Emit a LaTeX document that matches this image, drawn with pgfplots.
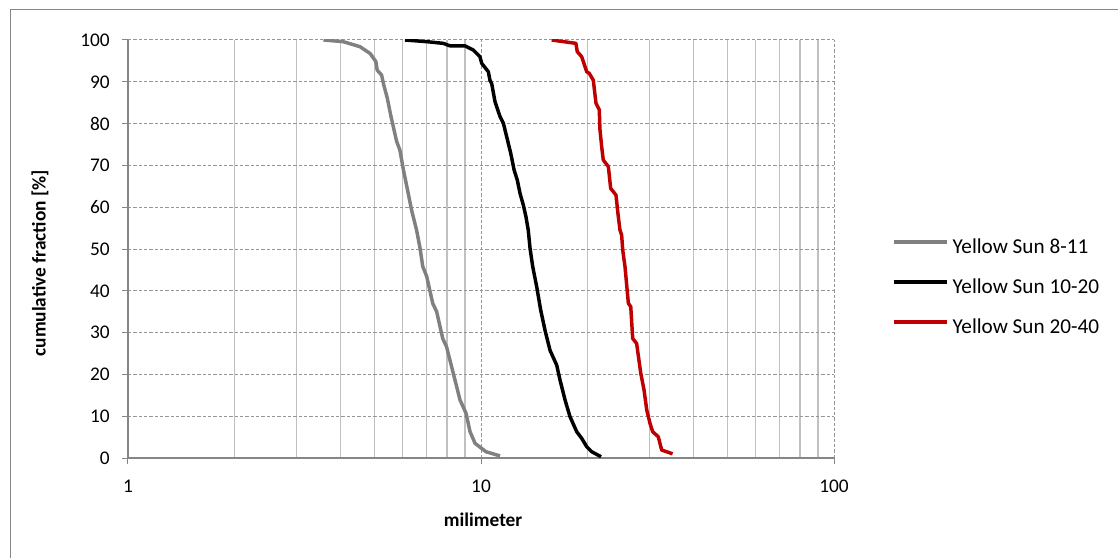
\documentclass[border=0pt]{standalone}
\usepackage{fontspec}
\setmainfont{Carlito}
\usepackage{pgfplots}
\pgfplotsset{compat=1.18}
\usepackage{pgfplotstable}
\definecolor{sgray}{RGB}{128,128,128}
\definecolor{sred}{RGB}{192,0,0}
\definecolor{axgray}{RGB}{134,134,134}
\definecolor{gridgray}{RGB}{150,150,150}
\definecolor{mingray}{RGB}{192,192,192}
\pgfplotstableread{
x y
3.58 100
4.07 99.6
4.54 98.4
4.85 96.8
5.04 94.8
5.08 92.8
5.23 91.6
5.29 89.6
5.43 86.0
5.55 82.0
5.67 78.5
5.77 75.7
5.89 73.7
6.03 68.9
6.18 64.5
6.36 59.3
6.57 54.5
6.72 50.2
6.84 45.8
7.02 43.4
7.30 37.0
7.49 35.0
7.79 28.6
7.99 26.6
8.39 19.5
8.72 13.9
9.07 10.7
9.31 6.3
9.62 3.5
10.33 1.5
11.32 0.5
}\tabA
\pgfplotstableread{
x y
6.09 100
7.02 99.6
7.82 99.2
8.17 98.6
9.01 98.6
9.51 97.6
9.93 96.0
10.05 94.4
10.49 92.4
10.6 90.4
10.72 89.6
10.96 85.2
11.32 81.7
11.57 80.1
11.82 76.9
12.14 72.9
12.41 68.9
12.67 66.5
12.90 63.3
13.18 60.5
13.41 57.7
13.61 54.5
13.77 50.2
14.01 45.8
14.38 41.0
14.76 35.4
15.18 30.6
15.68 25.8
16.39 22.2
16.74 18.7
17.30 13.9
17.87 9.9
18.67 6.3
19.29 4.7
19.93 2.7
20.59 1.5
21.88 0.3
}\tabB
\pgfplotstableread{
x y
15.86 100
18.58 99.2
18.74 97.2
19.29 96.0
19.93 92.4
20.27 92.0
20.8 90.4
21.17 84.9
21.63 83.3
21.73 78.5
21.97 74.5
22.2 71.3
22.95 69.7
23.3 64.5
24.12 62.9
24.49 57.7
24.76 54.5
25.03 53.3
25.2 49.8
25.58 45.8
26.15 37.0
26.56 36.2
26.9 28.6
27.6 27.4
28.35 20.3
28.96 16.3
29.48 11.5
30.11 8.3
30.64 6.3
31.78 5.1
32.5 1.9
34.9 1.0
}\tabC
\begin{document}
\begin{tikzpicture}
\useasboundingbox (0pt,0pt) rectangle (838.5pt,418.5pt);
\draw[axgray, line width=0.75pt] (7.5pt,0pt) -- (7.5pt,411pt) -- (838.5pt,411pt);
\begin{axis}[
  at={(96pt,75pt)}, anchor=south west,
  scale only axis, width=529.5pt, height=313.5pt,
  xmode=log, xmin=1, xmax=100, ymin=0, ymax=100,
  axis x line*=bottom, axis y line*=left,
  axis line style={axgray, line width=1.1pt, -},
  xtick={1,10,100}, xticklabels={1,10,100},
  minor xtick={2,3,4,5,6,7,8,9,20,30,40,50,60,70,80,90},
  ytick={0,10,...,100},
  xmajorgrids, ymajorgrids, xminorgrids,
  major grid style={dashed, dash pattern=on 2.5pt off 1.5pt, gridgray, line width=0.75pt},
  minor grid style={solid, mingray, line width=1.1pt},
  tick align=outside, major tick length=4.5pt, minor tick length=0pt,
  tick style={axgray, line width=0.75pt},
  /pgf/number format/assume math mode=true,
  ticklabel style={font=\fontsize{14.5}{17}\selectfont, inner sep=0pt},
  xticklabel style={anchor=north, yshift=-12pt},
  yticklabel style={anchor=east, xshift=-9pt},
  xlabel={milimeter}, ylabel={cumulative fraction [\%]},
  label style={font=\fontsize{14.5}{17}\selectfont\bfseries},
  xlabel style={at={(axis description cs:0.503,-0.148)}, anchor=center},
  ylabel style={at={(axis description cs:-0.1246,0.466)}, anchor=center},
  legend style={at={(axis description cs:1.082,0.407)}, anchor=west, draw=none, fill=none,
    font=\fontsize{15.9}{18}\selectfont, inner sep=0pt, row sep=17pt, column sep=3pt,
    nodes={inner sep=0pt, text height=11pt, text depth=2pt}},
  legend cell align=left,
  legend image code/.code={\draw[#1] (0pt,4.5pt) -- (39.75pt,4.5pt);},
]
\addplot[sgray, line width=2.6pt, line join=round] table[x=x,y=y] {\tabA};
\addlegendentry{Yellow Sun 8-11}
\addplot[black, line width=2.6pt, line join=round] table[x=x,y=y] {\tabB};
\addlegendentry{Yellow Sun 10-20}
\addplot[sred, line width=2.6pt, line join=round] table[x=x,y=y] {\tabC};
\addlegendentry{Yellow Sun 20-40}
\end{axis}
\end{tikzpicture}
\end{document}
